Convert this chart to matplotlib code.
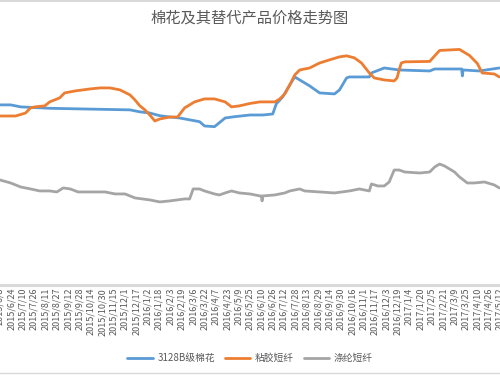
import matplotlib
matplotlib.use("Agg")
import matplotlib.pyplot as plt
import matplotlib.dates as mdates
from matplotlib.lines import Line2D
import pandas as pd

plt.rcParams['font.family'] = ['Noto Sans CJK SC', 'DejaVu Sans']

# ========================================================================
# data (yuan / ton)
cotton_dates = ['2015-06-08', '2015-06-23', '2015-07-07', '2015-08-17', '2015-10-27',
                '2015-12-08', '2015-12-22', '2016-01-05', '2016-01-19', '2016-02-02',
                '2016-02-16', '2016-03-15', '2016-03-22', '2016-04-05', '2016-04-20',
                '2016-05-03', '2016-05-25', '2016-06-12', '2016-06-26', '2016-07-01',
                '2016-07-10', '2016-07-20', '2016-07-27', '2016-08-17', '2016-08-31',
                '2016-09-21', '2016-09-28', '2016-10-08', '2016-10-12', '2016-11-09',
                '2016-11-12', '2016-11-30', '2016-12-21', '2017-02-02', '2017-02-09',
                '2017-03-19', '2017-03-20', '2017-03-21', '2017-04-13', '2017-05-11']
cotton = [12640, 12640, 12500, 12400, 12330,
          12290, 12150, 12070, 11880, 11790,
          11720, 11460, 11160, 11110, 11720,
          11810, 11930, 11930, 12000, 12710,
          13200, 14040, 14600, 13970, 13480,
          13410, 13690, 14530, 14600, 14600,
          14880, 15230, 15090, 15020, 15160,
          15160, 14670, 15090, 15020, 15230]

viscose_dates = ['2015-06-08', '2015-06-30', '2015-07-14', '2015-07-21', '2015-07-27',
                 '2015-08-10', '2015-08-17', '2015-08-31', '2015-09-07', '2015-09-22',
                 '2015-10-13', '2015-10-27', '2015-11-10', '2015-11-24', '2015-12-08',
                 '2015-12-15', '2015-12-22', '2015-12-29', '2016-01-05', '2016-01-12',
                 '2016-01-19', '2016-02-02', '2016-02-13', '2016-02-23', '2016-03-08',
                 '2016-03-22', '2016-04-05', '2016-04-20', '2016-04-29', '2016-05-10',
                 '2016-05-25', '2016-06-08', '2016-06-29', '2016-07-06', '2016-07-13',
                 '2016-07-20', '2016-07-27', '2016-08-03', '2016-08-17', '2016-08-31',
                 '2016-09-14', '2016-09-28', '2016-10-08', '2016-10-19', '2016-10-29',
                 '2016-11-09', '2016-11-16', '2016-11-30', '2016-12-14', '2016-12-18',
                 '2016-12-21', '2016-12-24', '2016-12-29', '2017-02-02', '2017-02-09',
                 '2017-02-16', '2017-03-16', '2017-03-30', '2017-04-10', '2017-04-17',
                 '2017-05-04', '2017-05-11']
viscose = [11860, 11860, 12070, 12430, 12500,
           12570, 12850, 13130, 13480, 13620,
           13760, 13830, 13830, 13690, 13340,
           12990, 12570, 12290, 11930, 11510,
           11650, 11790, 11790, 12430, 12850,
           13060, 13060, 12850, 12500, 12570,
           12740, 12850, 12850, 13060, 13410,
           14040, 14740, 15090, 15230, 15580,
           15800, 16010, 16080, 15940, 15580,
           14880, 14530, 14390, 14320, 14530,
           15090, 15580, 15660, 15690, 16080,
           16460, 16530, 16110, 15550, 14880,
           14810, 14600]

polyester_dates = ['2015-06-08', '2015-06-23', '2015-07-07', '2015-07-21', '2015-08-03',
                   '2015-08-17', '2015-08-27', '2015-09-05', '2015-09-15', '2015-09-26',
                   '2015-10-13', '2015-11-03', '2015-11-17', '2015-12-01', '2015-12-15',
                   '2016-01-05', '2016-01-19', '2016-02-02', '2016-02-23', '2016-03-01',
                   '2016-03-06', '2016-03-15', '2016-03-22', '2016-04-05', '2016-04-12',
                   '2016-04-20', '2016-04-29', '2016-05-10', '2016-05-25', '2016-06-08',
                   '2016-06-10', '2016-06-11', '2016-06-12', '2016-06-29', '2016-07-13',
                   '2016-07-20', '2016-08-03', '2016-08-10', '2016-08-31', '2016-09-21',
                   '2016-10-12', '2016-10-26', '2016-11-09', '2016-11-12', '2016-11-21',
                   '2016-11-30', '2016-12-07', '2016-12-14', '2016-12-21', '2016-12-29',
                   '2017-01-19', '2017-02-02', '2017-02-09', '2017-02-16', '2017-02-23',
                   '2017-03-09', '2017-03-16', '2017-03-27', '2017-04-06', '2017-04-20',
                   '2017-05-04', '2017-05-11']
polyester = [7370, 7160, 6880, 6740, 6600,
             6600, 6530, 6810, 6740, 6530,
             6530, 6530, 6390, 6390, 6110,
             5970, 5830, 5900, 6040, 6040,
             6740, 6740, 6600, 6390, 6320,
             6460, 6600, 6460, 6390, 6250,
             6250, 5900, 6250, 6320, 6460,
             6600, 6740, 6600, 6530, 6460,
             6600, 6740, 6600, 7090, 6950,
             6950, 7230, 8070, 8070, 7930,
             7860, 7930, 8280, 8490, 8350,
             7930, 7580, 7160, 7160, 7230,
             7020, 6810]

series_names = ['3128B级棉花', '粘胶短纤', '涤纶短纤']
series_colors = ['#5B9BD5', '#ED7D31', '#A5A5A5']

# ========================================================================
fig = plt.figure(figsize=(5, 3.75), dpi=100)
ax = fig.add_axes([0, 0.24, 1, 0.76])

all_series = [(cotton_dates, cotton), (viscose_dates, viscose), (polyester_dates, polyester)]
for (dd, vv), name, col in zip(all_series, series_names, series_colors):
    ax.plot(pd.to_datetime(dd), vv, color=col, lw=2.0, label=name,
            solid_joinstyle='round', solid_capstyle='round')

ax.set_ylim(0, 20000)
ax.set_xlim(pd.Timestamp('2015-06-08 12:00'), pd.Timestamp('2017-05-11 12:00'))

ticks = pd.date_range('2015-06-08', '2017-05-12', freq='16D')
ax.set_xticks(ticks)
ax.set_xticklabels(['{}/{}/{}'.format(t.year, t.month, t.day) for t in ticks],
                   rotation=90, fontsize=6.5, color='#595959')
ax.tick_params(axis='x', length=0, pad=2)
ax.set_yticks([])
for s in ['top', 'left', 'right']:
    ax.spines[s].set_visible(False)
ax.spines['bottom'].set_color('#D9D9D9')
ax.spines['bottom'].set_linewidth(2.2)

fig.text(0.5, 1 - 18 / 375, '棉花及其替代产品价格走势图', ha='center', va='center',
         fontsize=11, color='#595959')

fig.legend(loc='center', bbox_to_anchor=(0.5, 17 / 375), ncol=3, frameon=False,
           fontsize=7, handlelength=2.6, columnspacing=1.0, handletextpad=0.5,
           labelcolor='#595959')

# chart border lines
fig.add_artist(Line2D([0, 1], [1 - 1 / 375, 1 - 1 / 375], color='#D9D9D9', lw=1.5))
fig.add_artist(Line2D([0, 1], [2 / 375, 2 / 375], color='#D9D9D9', lw=1.0))

fig.savefig('out.png', dpi=100)
